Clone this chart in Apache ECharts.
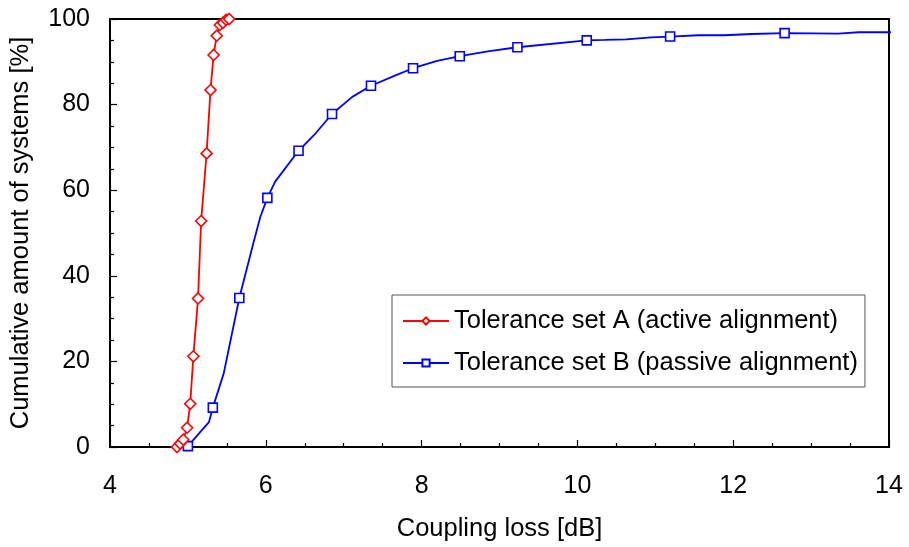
<!DOCTYPE html>
<html>
<head>
<meta charset="utf-8">
<script src="https://cdn.jsdelivr.net/npm/echarts@6/dist/echarts.min.js"></script>
<style>
html,body{margin:0;padding:0;background:#fff;}
#chart{width:909px;height:547px;}
</style>
</head>
<body>
<div id="chart"></div>
<script>
// ---- data ----
const xTicks = [4, 6, 8, 10, 12, 14];
const yTicks = [0, 20, 40, 60, 80, 100];
const seriesNames = ['Tolerance set A (active alignment)', 'Tolerance set B (passive alignment)'];

// Tolerance set A: coupling loss [dB] and cumulative amount [%]
const redLoss = [4.86, 4.90, 4.94, 4.99, 5.03, 5.07, 5.13, 5.17, 5.24, 5.29, 5.33, 5.37, 5.41, 5.45, 5.49, 5.53];
const redPct  = [0, 0.8, 1.7, 4.5, 10.1, 21.2, 34.7, 52.8, 68.6, 83.4, 91.6, 96.1, 98.6, 99.1, 99.8, 100];

// Tolerance set B: coupling loss [dB], cumulative amount [%], and whether the point carries a marker
const blueLoss = [5.00, 5.27, 5.32, 5.46, 5.66, 5.84, 5.93, 6.02, 6.12, 6.42, 6.64, 6.85, 7.11, 7.35, 7.65, 7.89, 8.20, 8.49, 8.87, 9.23, 10.12, 10.35, 10.63, 10.95, 11.19, 11.55, 11.89, 12.24, 12.66, 13.35, 13.61, 14.12];
const bluePct  = [0.2, 5.8, 9.2, 17.2, 34.8, 47.6, 53.8, 58.2, 62.0, 69.2, 73.3, 77.8, 81.8, 84.4, 86.7, 88.5, 90.2, 91.3, 92.5, 93.4, 95.0, 95.1, 95.25, 95.7, 95.9, 96.2, 96.2, 96.5, 96.7, 96.6, 96.9, 96.9];
const blueMark = [1, 0, 1, 0, 1, 0, 0, 1, 0, 1, 0, 1, 0, 1, 0, 1, 0, 1, 0, 1, 1, 0, 0, 0, 1, 0, 0, 0, 1, 0, 0, 0];

// ---- chart ----
const FONT = 'Liberation Sans, Arial, sans-serif';
const redData = redLoss.map((x, i) => [x, redPct[i]]);
const blueData = blueLoss.map((x, i) => ({ value: [x, bluePct[i]], symbol: blueMark[i] ? 'rect' : 'none' }));

const chart = echarts.init(document.getElementById('chart'), null, { renderer: 'canvas' });
chart.setOption({
  animation: false,
  backgroundColor: '#fff',
  grid: { left: 110, right: 20, top: 19, bottom: 100, show: true, borderColor: '#000', borderWidth: 2, backgroundColor: 'transparent' },
  legend: {
    orient: 'vertical',
    left: 392, top: 295,
    padding: [13, 7, 11, 10],
    itemGap: 16,
    itemWidth: 46, itemHeight: 9,
    borderColor: '#555', borderWidth: 1,
    backgroundColor: '#fff',
    textStyle: { fontFamily: FONT, fontSize: 25.5, color: '#000', lineHeight: 25 },
    data: seriesNames
  },
  xAxis: {
    type: 'value',
    min: xTicks[0], max: xTicks[xTicks.length - 1], interval: 2,
    name: 'Coupling loss [dB]', nameLocation: 'middle', nameGap: 69,
    nameTextStyle: { fontFamily: FONT, fontSize: 25.5, color: '#000' },
    axisLine: { lineStyle: { color: '#000', width: 2 } },
    axisTick: { inside: true, length: 7, lineStyle: { color: '#000', width: 1.2 } },
    minorTick: { show: true, splitNumber: 4, length: 4, lineStyle: { color: '#000', width: 1.2 } },
    axisLabel: { fontFamily: FONT, fontSize: 25, color: '#000', margin: 27 },
    splitLine: { show: false }
  },
  yAxis: {
    type: 'value',
    min: yTicks[0], max: yTicks[yTicks.length - 1], interval: 20,
    name: 'Cumulative amount of systems [%]', nameLocation: 'middle', nameGap: 76,
    nameTextStyle: { fontFamily: FONT, fontSize: 25.5, color: '#000' },
    axisLine: { lineStyle: { color: '#000', width: 2 } },
    axisTick: { inside: true, length: 7, lineStyle: { color: '#000', width: 1.2 } },
    minorTick: { show: true, splitNumber: 4, length: 4, lineStyle: { color: '#000', width: 1.2 } },
    axisLabel: { fontFamily: FONT, fontSize: 25, color: '#000', margin: 20 },
    splitLine: { show: false }
  },
  series: [
    {
      name: seriesNames[0], type: 'line', data: redData,
      symbol: 'diamond', symbolSize: 11, showAllSymbol: true,
      color: '#ff0000',
      lineStyle: { color: '#ff0000', width: 1.8 },
      itemStyle: { color: '#fff', borderColor: '#ff0000', borderWidth: 1.6 },
      clip: false, z: 3
    },
    {
      name: seriesNames[1], type: 'line', data: blueData,
      symbol: 'rect', symbolSize: 9, showAllSymbol: true,
      color: '#0000ff',
      lineStyle: { color: '#0000ff', width: 1.8 },
      itemStyle: { color: '#fff', borderColor: '#0000ff', borderWidth: 1.6 },
      clip: false, z: 2
    }
  ]
});
</script>
</body>
</html>
